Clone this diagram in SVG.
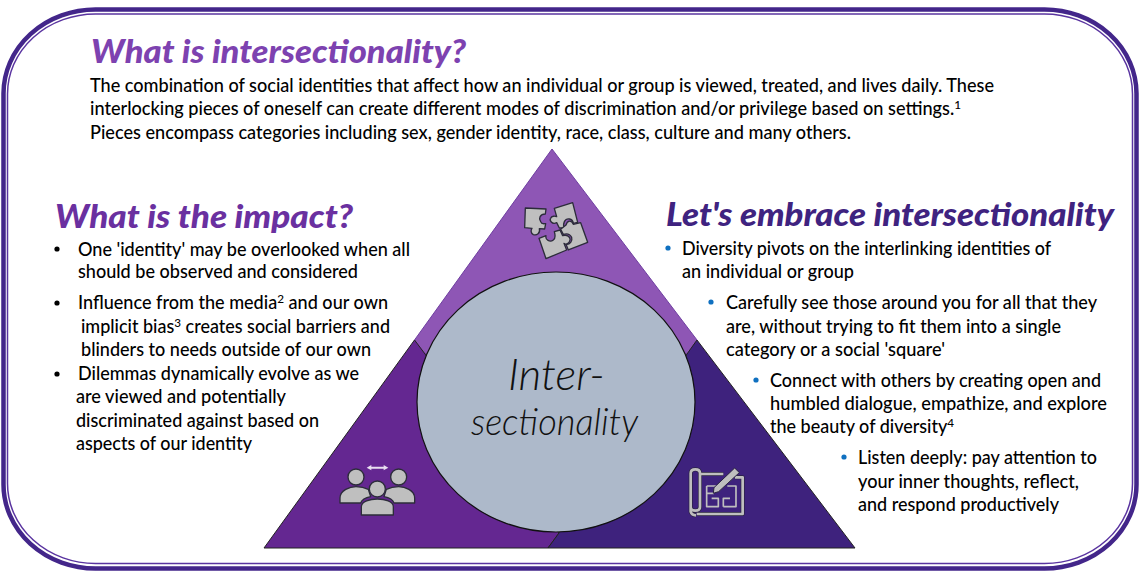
<svg xmlns="http://www.w3.org/2000/svg" width="1140" height="576" viewBox="0 0 1140 576">
<style>
.b{font-family:Lato,"Liberation Sans",sans-serif;font-size:18.500px;font-weight:500;fill:#000}
.h{font-family:Lato,"Open Sans",sans-serif;font-style:italic;font-weight:900;font-size:33px}
.hand{font-family:Lato,"Open Sans",sans-serif;font-style:italic;font-weight:300;fill:#111}
.ic{fill:#bfbfbf;stroke:#2c2c3a;stroke-width:4;stroke-linejoin:round}
.bpo{fill:none;stroke:#2a2440;stroke-linejoin:round}
.bp{fill:none;stroke:#bfbfbf;stroke-linejoin:round}
.tri{stroke:#222;stroke-width:1;stroke-linejoin:round}
</style>
<rect width="1140" height="576" fill="#fff"/>
<g id="frame" fill="none">
<rect x="3.500" y="9.500" width="1133" height="559" rx="92" ry="84" stroke="#43268a" stroke-width="4.500"/>
<rect x="7.500" y="14" width="1125" height="549.500" rx="88" ry="80" stroke="#5a34a0" stroke-width="1.500"/>
</g>
<g id="triangles">
<path id="tri-top" d="M552 149L697 340L687 354L425 354L414.500 340Z" fill="#8e56b5" stroke="#6f3fa0" stroke-width="1"/>
<path id="tri-left" class="tri" d="M264 548L414.500 340L425 354L559 533L548 548Z" fill="#642791"/>
<path id="tri-right" class="tri" d="M855 548L697 340L687 354L559 533L548 548Z" fill="#3e227d"/>
</g>
<g id="center">
<ellipse cx="556" cy="402" rx="139" ry="130" fill="#adb9ca" stroke="#111" stroke-width="1.200"/>
<text class="hand" x="508" y="390" font-size="44" textLength="97" lengthAdjust="spacingAndGlyphs">Inter-</text>
<text class="hand" x="471" y="435" font-size="38" textLength="167" lengthAdjust="spacingAndGlyphs">sectionality</text>
</g>
<g id="icon-puzzle" transform="translate(510 190) scale(.3333)">
<path class="ic" d="M46 54L108 57L106 72C90 72 85 85 92 95C95 105 105 100 107 101L104 117L88 116C92 130 80 137 70 134C62 130 62 120 66 115L44 113Z"/>
<path class="ic" d="M133 55L188 38L203 97L190 100C188 85 170 82 163 95C160 102 160 108 163 113L148 114L140 98C125 105 118 90 122 85C125 77 135 78 140 80Z"/>
<path class="ic" d="M87 145L108 137C105 150 120 158 130 150C137 145 135 132 133 125L150 120L158 137C170 133 182 140 180 150C178 162 165 165 162 160L170 180L108 206Z"/>
<path class="ic" d="M168 105C172 90 185 90 190 103L212 98L233 157L175 180L168 163C180 165 188 152 185 142C180 132 170 130 160 133L152 118Z"/>
</g>
<g id="icon-people" transform="translate(330 455) scale(.3333)">
<circle class="ic" cx="78" cy="66" r="24"/>
<circle class="ic" cx="206" cy="66" r="24"/>
<path class="ic" d="M30 144V129C30 105 60 95 78 95C95 95 105 98 115 103L122 125C105 128 95 135 92 144Z"/>
<path class="ic" d="M254 144V129C254 105 224 95 206 95C189 95 179 98 169 103L162 125C179 128 189 135 192 144Z"/>
<circle class="ic" cx="142" cy="102" r="24"/>
<path class="ic" d="M94 180V155C94 140 120 132 142 132C165 132 190 140 190 155V180Z"/>
<path d="M110 38L124 30V35H161V30L175 38L161 46V41H124V46Z" fill="#e8dff0"/>
</g>
<g id="icon-plan" transform="translate(640 190) scale(.3333)">
<path class="bpo" stroke-width="12" d="M182 852H250M285 862H308V972H170"/>
<path class="bpo" stroke-width="12" d="M152 950V850Q152 838 166 838Q180 838 180 850V950Q180 962 166 962Q152 962 152 950V965Q155 976 168 976"/>
<path class="bp" stroke-width="8" d="M182 852H250M285 862H308V972H170"/>
<path class="bp" stroke-width="8" d="M152 950V850Q152 838 166 838Q180 838 180 850V950Q180 962 166 962Q152 962 152 950V965Q155 976 168 976"/>
<path class="bp" stroke-width="5" d="M200 888H232M200 888V950H235V925H215M250 950H288V888H262M250 950V925H270M200 910H222"/>
<path d="M222 893L284 834L298 848L236 905L220 910Z" fill="#bfbfbf" stroke="#2a2440" stroke-width="3" stroke-linejoin="round"/>
</g>
<g id="intro">
<text class="h" x="91" y="63" fill="#7d42b0" textLength="375" lengthAdjust="spacingAndGlyphs">What is intersectionality?</text>
<text class="b" x="90" y="92" textLength="904" lengthAdjust="spacingAndGlyphs">The combination of social identities that affect how an individual or group is viewed, treated, and lives daily. These</text>
<text class="b" x="90" y="115" textLength="871" lengthAdjust="spacingAndGlyphs">interlocking pieces of oneself can create different modes of discrimination and/or privilege based on settings.<tspan font-size="12" dy="-6">1</tspan></text>
<text class="b" x="90" y="139" textLength="761" lengthAdjust="spacingAndGlyphs">Pieces encompass categories including sex, gender identity, race, class, culture and many others.</text>
</g>
<g id="impact">
<text class="h" x="55" y="228" fill="#6a30a0" textLength="298" lengthAdjust="spacingAndGlyphs">What is the impact?</text>
<circle cx="57" cy="249" r="2.600" fill="#000"/>
<circle cx="57" cy="303" r="2.600" fill="#000"/>
<circle cx="57" cy="374" r="2.600" fill="#000"/>
<text class="b" x="78" y="256" textLength="332" lengthAdjust="spacingAndGlyphs">One 'identity' may be overlooked when all</text>
<text class="b" x="78" y="278" textLength="280" lengthAdjust="spacingAndGlyphs">should be observed and considered</text>
<text class="b" x="78" y="309" textLength="310" lengthAdjust="spacingAndGlyphs">Influence from the media<tspan font-size="12" dy="-6">2</tspan><tspan dy="6"> and our own</tspan></text>
<text class="b" x="81" y="333" textLength="309" lengthAdjust="spacingAndGlyphs">implicit bias<tspan font-size="12" dy="-6">3</tspan><tspan dy="6"> creates social barriers and</tspan></text>
<text class="b" x="81" y="356" textLength="290" lengthAdjust="spacingAndGlyphs">blinders to needs outside of our own</text>
<text class="b" x="78" y="380" textLength="281" lengthAdjust="spacingAndGlyphs">Dilemmas dynamically evolve as we</text>
<text class="b" x="76" y="403" textLength="210" lengthAdjust="spacingAndGlyphs">are viewed and potentially</text>
<text class="b" x="76" y="427" textLength="243" lengthAdjust="spacingAndGlyphs">discriminated against based on</text>
<text class="b" x="76" y="450" textLength="176" lengthAdjust="spacingAndGlyphs">aspects of our identity</text>
</g>
<g id="embrace">
<text class="h" x="666" y="226" fill="#3f2380" textLength="448" lengthAdjust="spacingAndGlyphs">Let's embrace intersectionality</text>
<circle cx="668" cy="248" r="2.600" fill="#0f70c0"/>
<circle cx="711" cy="302" r="2.600" fill="#0f70c0"/>
<circle cx="756" cy="380" r="2.600" fill="#0f70c0"/>
<circle cx="844" cy="457" r="2.600" fill="#0f70c0"/>
<text class="b" x="682" y="255" textLength="369" lengthAdjust="spacingAndGlyphs">Diversity pivots on the interlinking identities of</text>
<text class="b" x="682" y="278" textLength="172" lengthAdjust="spacingAndGlyphs">an individual or group</text>
<text class="b" x="726" y="309" textLength="371" lengthAdjust="spacingAndGlyphs">Carefully see those around you for all that they</text>
<text class="b" x="726" y="333" textLength="335" lengthAdjust="spacingAndGlyphs">are, without trying to fit them into a single</text>
<text class="b" x="726" y="356" textLength="219" lengthAdjust="spacingAndGlyphs">category or a social 'square'</text>
<text class="b" x="770" y="387" textLength="331" lengthAdjust="spacingAndGlyphs">Connect with others by creating open and</text>
<text class="b" x="770" y="410" textLength="337" lengthAdjust="spacingAndGlyphs">humbled dialogue, empathize, and explore</text>
<text class="b" x="770" y="433" textLength="184" lengthAdjust="spacingAndGlyphs">the beauty of diversity<tspan font-size="12" dy="-6">4</tspan></text>
<text class="b" x="858" y="464" textLength="239" lengthAdjust="spacingAndGlyphs">Listen deeply: pay attention to</text>
<text class="b" x="858" y="488" textLength="221" lengthAdjust="spacingAndGlyphs">your inner thoughts, reflect,</text>
<text class="b" x="858" y="511" textLength="201" lengthAdjust="spacingAndGlyphs">and respond productively</text>
</g>
</svg>
